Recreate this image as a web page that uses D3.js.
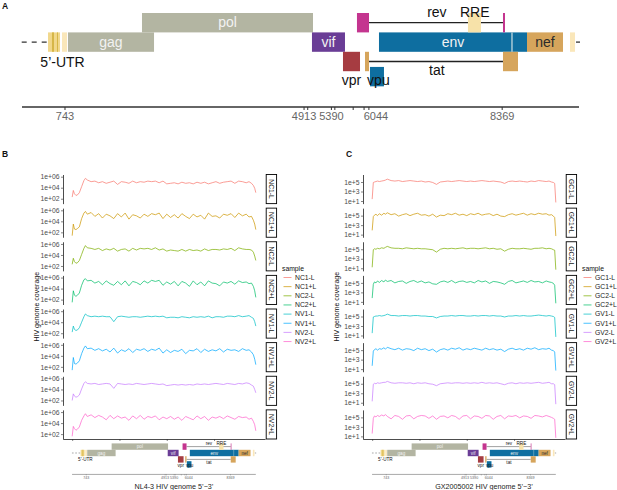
<!DOCTYPE html>
<html>
<head>
<meta charset="utf-8">
<script src="https://cdn.jsdelivr.net/npm/d3@7"></script>
<style>
  body { margin: 0; background: #fff; }
  svg { display: block; font-family: "Liberation Sans", Arial, sans-serif; }
</style>
</head>
<body>
<svg></svg>
<script>
const width = 617
const height = 490

// ---- genome map (bp) ----
const genomeLength = 9709
const genes = [
  { name: 'gag', start: 795, end: 2296, lane: 1 },
  { name: 'pol', start: 2086, end: 5069, lane: 0 },
  { name: 'vif', start: 5051, end: 5627, lane: 1 },
  { name: 'vpr', start: 5592, end: 5889, lane: 2 },
  { name: 'rev', start: 5836, end: 6046, lane: 0 },
  { name: 'tat', start: 5976, end: 6046, lane: 2 },
  { name: 'vpu', start: 6063, end: 6307, lane: 2.78 },
  { name: 'env', start: 6220, end: 8802, lane: 1 },
  { name: 'RRE', start: 7772, end: 7999, lane: 0 },
  { name: 'tat', start: 8383, end: 8645, lane: 2 },
  { name: 'rev', start: 8383, end: 8418, lane: 0 },
  { name: 'nef', start: 8802, end: 9430, lane: 1 }
]
const ltrBlocks = [
  { start: 447, end: 656, tone: 'ltr' },
  { start: 516, end: 551, tone: 'stripe' },
  { start: 603, end: 621, tone: 'stripe' },
  { start: 691, end: 778, tone: 'pale' },
  { start: 9552, end: 9639, tone: 'pale' }
]
const spliceLinks = [
  { name: 'rev', start: 6046, end: 8383, lane: 0 },
  { name: 'tat', start: 6046, end: 8383, lane: 2 }
]
const envCleavage = 8540
const geneLabels = [
  { text: 'gag', pos: 1545, lane: 1.75, inside: true },
  { text: 'pol', pos: 3578, lane: 0.73, inside: true },
  { text: 'vif', pos: 5339, lane: 1.75, inside: true },
  { text: 'env', pos: 7511, lane: 1.75, inside: true },
  { text: 'nef', pos: 9116, lane: 1.75, inside: true, dark: true },
  { text: 'rev', pos: 7230, lane: 0.2 },
  { text: 'RRE', pos: 7890, lane: 0.2 },
  { text: 'tat', pos: 7230, lane: 3.2 },
  { text: 'vpr', pos: 5740, lane: 3.7 },
  { text: 'vpu', pos: 6210, lane: 3.7 },
  { text: '5\u2019-UTR', pos: 700, lane: 2.78 }
]
const genomeTicks = [743, 4913, 4977, 5390, 5450, 5770, 5960, 6044, 8369]
const genomeTickLabels = [743, 4913, 5390, 6044, 8369]

// ---- coverage (log10 depth) ----
const positions = [0, 60, 120, 200, 280, 380, 500, 620, 700,
  800, 1000, 1200, 1400, 1600, 1800, 2000, 2200, 2400, 2600, 2800, 3000, 3200, 3400,
  3600, 3800, 4000, 4200, 4400, 4600, 4800, 5000, 5200, 5400, 5600, 5800, 6000, 6200,
  6400, 6600, 6800, 7000, 7200, 7400, 7600, 7800, 8000, 8200, 8400, 8600, 8800, 9000,
  9200, 9350, 9480, 9580, 9650, 9709]

const samplesNL = ['NC1-L', 'NC1+L', 'NC2-L', 'NC2+L', 'NV1-L', 'NV1+L', 'NV2-L', 'NV2+L']
const samplesGX = ['GC1-L', 'GC1+L', 'GC2-L', 'GC2+L', 'GV1-L', 'GV1+L', 'GV2-L', 'GV2+L']

const nc1Minus = [2.3, 3.5, 2.9, 2.6, 2.7, 3.1, 4.2, 5.3, 5.7, 5.4,
  5.1, 5.2, 4.9, 5.1, 4.8, 5.0, 5.2, 4.6, 5.1, 5.0,
  4.8, 5.2, 4.9, 5.1, 5.0, 5.2, 5.1, 5.2, 4.9, 5.2,
  4.7, 4.8, 4.9, 4.7, 5.0, 4.8, 4.9, 4.7, 5.0, 4.8,
  5.0, 4.7, 4.9, 5.1, 4.8, 5.0, 5.1, 5.2, 4.8, 5.2,
  5.1, 4.9, 5.1, 4.8, 4.4, 3.9, 3.1]
const nc1Plus = [1.4, 3.5, 2.6, 2.5, 2.7, 3.0, 4.5, 5.5, 5.8, 5.3,
  5.6, 4.9, 5.4, 4.6, 5.3, 5.0, 4.5, 5.4, 4.8, 5.5,
  4.4, 5.2, 5.0, 4.6, 5.3, 4.9, 5.4, 5.2, 5.5, 4.5,
  5.3, 4.7, 5.2, 4.6, 5.4, 4.9, 4.5, 5.3, 4.8, 5.1,
  4.4, 5.5, 4.9, 5.0, 4.6, 5.3, 5.1, 5.4, 4.7, 5.5,
  5.0, 5.3, 4.8, 4.9, 4.2, 3.5, 2.5]
const nc2Minus = [2.3, 3.4, 2.8, 2.5, 2.6, 3.0, 4.1, 5.2, 5.7, 5.3,
  5.2, 5.0, 5.2, 4.8, 5.1, 4.9, 5.2, 4.7, 5.0, 5.1,
  4.7, 5.2, 4.9, 5.2, 5.1, 5.2, 5.0, 5.3, 4.9, 5.1,
  4.7, 4.9, 4.8, 4.7, 5.0, 4.7, 5.0, 4.8, 4.9, 4.7,
  5.1, 4.8, 5.0, 5.0, 4.9, 5.1, 5.0, 5.2, 4.8, 5.3,
  5.1, 5.0, 5.0, 4.9, 4.5, 3.8, 3.0]
const nc2Plus = [1.5, 3.6, 2.8, 2.6, 2.8, 3.2, 4.6, 5.6, 5.8, 5.4,
  5.5, 5.0, 5.3, 4.7, 5.4, 4.9, 4.6, 5.3, 4.7, 5.4,
  4.5, 5.3, 5.1, 4.7, 5.4, 5.0, 5.5, 5.3, 5.5, 4.6,
  5.2, 4.8, 5.3, 4.5, 5.3, 5.0, 4.4, 5.4, 4.7, 5.2,
  4.5, 5.4, 5.0, 4.9, 4.5, 5.2, 5.0, 5.3, 4.8, 5.4,
  5.1, 5.2, 4.9, 5.0, 4.4, 3.6, 2.4]
const nv1Minus = [2.2, 3.3, 2.7, 2.5, 2.6, 3.0, 4.0, 5.0, 5.5, 5.2,
  5.0, 5.1, 5.0, 5.1, 5.0, 5.0, 4.1, 5.0, 5.1, 5.0,
  4.9, 5.0, 5.0, 4.9, 5.0, 5.1, 5.0, 5.1, 5.0, 5.1,
  4.8, 4.9, 4.9, 4.8, 5.0, 4.9, 4.8, 5.0, 4.9, 5.0,
  4.9, 5.1, 4.8, 5.0, 5.0, 4.9, 5.1, 5.1, 5.0, 5.2,
  5.0, 5.1, 5.2, 4.9, 4.7, 4.1, 3.3]
const nv1Plus = [1.4, 3.7, 2.6, 2.5, 2.7, 3.1, 4.4, 5.4, 5.8, 5.3,
  5.4, 5.0, 5.3, 4.9, 5.2, 4.7, 5.4, 4.5, 5.1, 4.8,
  5.3, 4.6, 5.2, 5.0, 5.3, 4.8, 5.2, 5.0, 5.4, 4.5,
  5.1, 4.6, 5.0, 4.8, 5.2, 4.4, 5.0, 4.9, 5.3, 4.6,
  5.2, 4.8, 5.1, 4.9, 5.3, 4.7, 5.2, 5.0, 5.1, 4.8,
  5.3, 5.0, 5.1, 4.7, 4.2, 3.4, 2.4]
const nv2Minus = [2.0, 3.2, 2.8, 2.6, 2.7, 3.0, 4.1, 5.1, 5.4, 5.1,
  5.0, 5.1, 4.9, 5.0, 5.1, 5.0, 4.2, 5.1, 5.0, 4.9,
  5.0, 4.9, 5.1, 5.0, 4.9, 5.0, 5.1, 5.0, 4.9, 5.0,
  4.7, 4.8, 4.9, 4.8, 4.9, 4.8, 4.9, 4.8, 5.0, 4.9,
  5.0, 4.9, 5.0, 5.1, 5.0, 4.9, 5.1, 5.0, 4.9, 5.1,
  5.0, 5.2, 5.1, 4.8, 4.6, 4.0, 3.4]
const nv2Plus = [1.6, 3.4, 3.0, 2.7, 2.9, 3.3, 4.5, 5.3, 5.7, 5.2,
  5.5, 5.0, 5.4, 5.1, 4.6, 5.4, 4.8, 5.3, 4.9, 5.1,
  4.5, 5.3, 4.8, 5.4, 4.7, 5.2, 5.0, 5.3, 4.6, 5.1,
  4.8, 5.2, 4.7, 5.1, 4.5, 5.2, 4.9, 4.6, 5.3, 4.8,
  5.2, 4.5, 5.1, 4.9, 5.2, 4.8, 5.3, 5.0, 4.7, 5.2,
  5.0, 5.1, 4.7, 4.9, 4.3, 3.7, 2.6]

const gc1Minus = [1.4, 4.9, 5.0, 5.1, 5.2, 5.1, 5.2, 5.3, 5.4, 5.6,
  5.3, 5.2, 5.3, 5.1, 5.2, 5.3, 5.2, 5.1, 5.2, 5.0,
  5.1, 4.9, 4.5, 5.0, 5.1, 5.2, 5.1, 5.2, 5.3, 5.2,
  5.1, 5.2, 5.1, 5.2, 5.3, 5.2, 5.1, 5.2, 5.1, 5.0,
  4.7, 5.1, 5.2, 5.1, 5.2, 5.1, 5.0, 5.2, 5.1, 5.3,
  5.2, 5.1, 5.2, 5.0, 4.9, 4.7, 0.7]
const gc1Plus = [1.9, 4.8, 5.1, 5.3, 5.0, 5.4, 5.1, 5.5, 5.3, 5.6,
  5.2, 5.4, 4.9, 5.2, 5.4, 5.0, 5.3, 5.5, 5.1, 5.2,
  4.9, 5.3, 4.7, 5.1, 5.0, 5.4, 5.2, 5.5, 5.1, 5.3,
  5.0, 5.4, 5.2, 5.5, 5.1, 5.3, 5.4, 5.0, 5.3, 4.9,
  4.8, 5.2, 5.4, 5.1, 5.3, 5.5, 5.1, 5.4, 5.2, 5.5,
  5.3, 5.4, 5.1, 5.2, 4.9, 4.6, 0.7]
const gc2Minus = [1.2, 4.9, 5.1, 5.0, 5.2, 5.1, 5.3, 5.2, 5.4, 5.6,
  5.3, 5.2, 5.2, 5.1, 5.3, 5.2, 5.1, 5.2, 5.1, 5.1,
  5.0, 4.9, 4.4, 5.0, 5.2, 5.1, 5.2, 5.1, 5.2, 5.3,
  5.1, 5.2, 5.2, 5.1, 5.2, 5.3, 5.1, 5.2, 5.0, 5.1,
  4.6, 5.0, 5.2, 5.1, 5.1, 5.2, 5.1, 5.0, 5.2, 5.2,
  5.3, 5.1, 5.2, 5.1, 4.9, 4.8, 0.7]
const gc2Plus = [1.8, 4.7, 5.2, 5.0, 5.4, 5.1, 5.5, 5.2, 5.6, 5.3,
  5.5, 5.0, 5.3, 5.4, 4.9, 5.3, 5.5, 5.1, 5.4, 5.0,
  5.2, 4.8, 4.7, 5.2, 5.4, 5.1, 5.5, 5.0, 5.3, 5.4,
  5.1, 5.3, 5.0, 5.5, 5.2, 5.4, 4.9, 5.3, 5.2, 5.0,
  4.7, 5.3, 5.5, 5.0, 5.2, 5.4, 5.1, 5.5, 5.2, 5.3,
  5.0, 5.4, 5.2, 5.1, 4.9, 4.5, 0.7]
const gv1Minus = [1.5, 4.9, 5.0, 5.1, 5.1, 5.2, 5.1, 5.2, 5.3, 5.5,
  5.2, 5.2, 5.1, 5.2, 5.2, 5.1, 5.2, 5.2, 5.1, 5.1,
  5.0, 5.0, 4.7, 5.0, 5.1, 5.1, 5.2, 5.1, 5.2, 5.2,
  5.1, 5.1, 5.2, 5.1, 5.2, 5.2, 5.1, 5.2, 5.1, 5.1,
  4.9, 5.1, 5.1, 5.2, 5.1, 5.2, 5.1, 5.1, 5.2, 5.3,
  5.2, 5.1, 5.2, 5.1, 5.0, 4.8, 0.7]
const gv1Plus = [1.7, 4.8, 5.1, 5.3, 5.0, 5.3, 5.2, 5.5, 5.2, 5.6,
  5.3, 5.1, 5.4, 5.0, 5.3, 5.2, 4.9, 5.4, 5.1, 5.3,
  4.9, 5.2, 4.6, 5.1, 5.3, 5.0, 5.4, 5.2, 5.5, 5.0,
  5.3, 5.1, 5.4, 5.2, 5.0, 5.4, 5.1, 5.3, 5.0, 5.2,
  4.7, 5.2, 5.4, 5.1, 5.3, 5.0, 5.4, 5.2, 5.5, 5.1,
  5.3, 5.2, 5.4, 5.0, 4.9, 4.6, 0.7]
const gv2Minus = [1.3, 4.9, 5.1, 5.0, 5.2, 5.1, 5.2, 5.3, 5.3, 5.5,
  5.2, 5.1, 5.2, 5.2, 5.1, 5.2, 5.0, 5.2, 5.1, 5.2,
  5.0, 4.9, 4.6, 5.0, 5.1, 5.2, 5.1, 5.2, 5.2, 5.1,
  5.2, 5.1, 5.2, 5.1, 5.3, 5.1, 5.2, 5.1, 5.2, 5.0,
  4.8, 5.1, 5.2, 5.0, 5.2, 5.1, 5.2, 5.1, 5.2, 5.3,
  5.1, 5.2, 5.3, 5.0, 5.0, 4.8, 0.7]
const gv2Plus = [1.6, 4.8, 5.3, 5.1, 5.4, 5.2, 5.5, 5.3, 5.6, 5.2,
  4.7, 5.4, 5.2, 4.6, 5.3, 5.4, 4.7, 5.2, 5.4, 5.3,
  4.8, 5.3, 4.6, 5.2, 5.3, 4.9, 5.4, 5.2, 4.6, 5.3,
  5.4, 4.7, 5.3, 5.2, 4.8, 5.4, 5.3, 4.6, 5.2, 5.4,
  4.7, 5.3, 5.2, 5.4, 4.9, 5.3, 5.2, 4.8, 5.4, 5.3,
  5.1, 5.4, 5.2, 5.0, 4.8, 4.6, 0.7]

const seriesNL = [nc1Minus, nc1Plus, nc2Minus, nc2Plus, nv1Minus, nv1Plus, nv2Minus, nv2Plus]
const seriesGX = [gc1Minus, gc1Plus, gc2Minus, gc2Plus, gv1Minus, gv1Plus, gv2Minus, gv2Plus]

const ticksNL = [1e2, 1e4, 1e6]
const ticksGX = [1e1, 1e3, 1e5]
const bottomTicks = [0, 2500, 5000, 7500]

// ggplot default hue palette for 8 groups
const hue = ['#F8766D', '#CD9600', '#7CAE00', '#00BE67', '#00BFC4', '#00A9FF', '#C77CFF', '#FF61CC']

const geneColor = {
  gag: '#B3B5A2', pol: '#B3B5A2', vif: '#6A3D96', vpr: '#A63C41', rev: '#C4358F',
  tat: '#D6A55C', vpu: '#0E6EA0', env: '#0E6EA0', nef: '#D6A55C', RRE: '#F7E2A9'
}
const ltrColor = { ltr: '#F1D88C', stripe: '#D6B647', pale: '#FAE7BA' }

const svg = d3.select('svg')
  .attr('width', width)
  .attr('height', height)

// ---------- genome diagram ----------
const gx = d3.scaleLinear().domain([0, genomeLength]).range([22.4, 579])
const laneH = 19.4
const laneTop = l => 13 + l * laneH

function drawGenome(g) {
  const midY = laneTop(1) + laneH / 2

  g.append('line')
    .attr('x1', 21.7).attr('x2', gx(ltrBlocks[0].start))
    .attr('y1', midY).attr('y2', midY)
    .attr('stroke', '#333').attr('stroke-width', 1.3)
    .attr('stroke-dasharray', '5,5')
  g.append('line')
    .attr('x1', 576).attr('x2', 580)
    .attr('y1', midY).attr('y2', midY)
    .attr('stroke', '#333').attr('stroke-width', 1.3)

  g.selectAll(null)
    .data(ltrBlocks)
    .join('rect')
      .attr('x', d => gx(d.start))
      .attr('width', d => gx(d.end) - gx(d.start))
      .attr('y', laneTop(1))
      .attr('height', laneH)
      .attr('fill', d => ltrColor[d.tone])

  g.selectAll(null)
    .data(spliceLinks)
    .join('line')
      .attr('x1', d => gx(d.start)).attr('x2', d => gx(d.end))
      .attr('y1', d => laneTop(d.lane) + laneH / 2)
      .attr('y2', d => laneTop(d.lane) + laneH / 2)
      .attr('stroke', '#222').attr('stroke-width', 1.3)

  g.selectAll(null)
    .data(genes)
    .join('rect')
      .attr('x', d => gx(d.start))
      .attr('width', d => gx(d.end) - gx(d.start))
      .attr('y', d => laneTop(d.lane))
      .attr('height', laneH)
      .attr('fill', d => geneColor[d.name])

  g.append('line')
    .attr('x1', gx(envCleavage)).attr('x2', gx(envCleavage))
    .attr('y1', laneTop(1)).attr('y2', laneTop(1) + laneH)
    .attr('stroke', '#CFE0E4').attr('stroke-width', 1.2)

  g.selectAll(null)
    .data(geneLabels)
    .join('text')
      .attr('x', d => gx(d.pos))
      .attr('y', d => laneTop(d.lane))
      .attr('text-anchor', 'middle')
      .attr('font-size', 14)
      .attr('fill', d => d.inside ? (d.dark ? '#2b2b2b' : '#F2F2F2') : '#111')
      .text(d => d.text)

  // coordinate axis
  const axisY = 107
  g.append('line')
    .attr('x1', 22).attr('x2', 579)
    .attr('y1', axisY).attr('y2', axisY)
    .attr('stroke', '#333').attr('stroke-width', 1.3)
  g.selectAll(null)
    .data(genomeTicks)
    .join('line')
      .attr('x1', d => gx(d)).attr('x2', d => gx(d))
      .attr('y1', axisY).attr('y2', axisY + 3)
      .attr('stroke', '#333').attr('stroke-width', 1)
  g.selectAll(null)
    .data(genomeTickLabels)
    .join('text')
      .attr('x', d => gx(d) + (d === 6044 ? 7 : 0))
      .attr('y', axisY + 13)
      .attr('text-anchor', 'middle')
      .attr('font-size', 11)
      .attr('fill', '#666')
      .text(d => d)
}

drawGenome(svg.append('g'))

// ---------- coverage facets ----------
const facetTop = 174.5
const facetBottom = 439
const facetGap = 4.5
const nFacets = 8
const facetH = (facetBottom - facetTop - facetGap * (nFacets - 1)) / nFacets

function drawCoverage(cfg) {
  const g = svg.append('g')
  const span = genomeLength
  const x = d3.scaleLinear()
    .domain([-0.05 * span, span * 1.05])
    .range([cfg.left, cfg.right])

  cfg.samples.forEach((name, i) => {
    const top = facetTop + i * (facetH + facetGap)
    const y = d3.scaleLog()
      .domain([10 ** cfg.yDomain[0], 10 ** cfg.yDomain[1]])
      .range([top + facetH, top])

    const line = d3.line()
      .x((d, j) => x(positions[j]))
      .y(d => y(10 ** d))

    g.append('path')
      .datum(cfg.series[i])
      .attr('d', line)
      .attr('fill', 'none')
      .attr('stroke', hue[i])
      .attr('stroke-opacity', 0.8)
      .attr('stroke-width', 0.9)
      .attr('stroke-linejoin', 'round')

    const ax = g.append('g')
      .attr('transform', `translate(${cfg.left},0)`)
      .call(d3.axisLeft(y).tickValues(cfg.ticks).tickFormat(cfg.fmt).tickSize(2).tickSizeOuter(0).tickPadding(1.5))
    ax.select('.domain').attr('stroke', '#000').attr('stroke-width', 0.7)
    ax.selectAll('.tick line').attr('stroke', '#333').attr('stroke-width', 0.6)
    ax.selectAll('.tick text')
      .attr('font-size', 6.8)
      .attr('font-family', '"Liberation Sans", Arial, sans-serif')
      .attr('fill', '#4D4D4D')

    // facet strip
    const sx = cfg.right + 1.2
    g.append('rect')
      .attr('x', sx).attr('y', top)
      .attr('width', 10.4).attr('height', facetH)
      .attr('fill', '#fff').attr('stroke', '#000').attr('stroke-width', 0.9)
    g.append('text')
      .attr('transform', `translate(${sx + 5.2},${top + facetH / 2}) rotate(90)`)
      .attr('text-anchor', 'middle')
      .attr('dy', '0.35em')
      .attr('font-size', 6.8)
      .attr('fill', '#1a1a1a')
      .text(name)
  })

  const bx = g.append('g')
    .attr('transform', `translate(0,${facetBottom})`)
    .call(d3.axisBottom(x).tickValues(bottomTicks).tickFormat('').tickSize(2).tickSizeOuter(0))
  bx.select('.domain').attr('stroke', '#000').attr('stroke-width', 0.7)
  bx.selectAll('.tick line').attr('stroke', '#333').attr('stroke-width', 0.6)

  g.append('text')
    .attr('transform', `translate(${cfg.yTitleX},${(facetTop + facetBottom) / 2}) rotate(-90)`)
    .attr('text-anchor', 'middle')
    .attr('font-size', 7)
    .attr('fill', '#111')
    .text('HIV genome coverage')

  g.append('text')
    .attr('x', cfg.xTitleX).attr('y', 489)
    .attr('text-anchor', 'middle')
    .attr('font-size', 7.2)
    .attr('fill', '#1a1a1a')
    .text(cfg.xTitle)

  // legend
  const lg = g.append('g').attr('transform', `translate(${cfg.legendX},0)`)
  lg.append('text')
    .attr('x', 0).attr('y', 270.5)
    .attr('font-size', 6.8).attr('fill', '#111')
    .text('sample')
  cfg.samples.forEach((name, i) => {
    const yy = 277.5 + i * 9.15
    lg.append('line')
      .attr('x1', 1.5).attr('x2', 9.5)
      .attr('y1', yy).attr('y2', yy)
      .attr('stroke', hue[i]).attr('stroke-opacity', 0.8).attr('stroke-width', 0.9)
    lg.append('text')
      .attr('x', 13).attr('y', yy).attr('dy', '0.35em')
      .attr('font-size', 6.8).attr('fill', '#1a1a1a')
      .text(name)
  })

  // mini genome map under the facets
  const k = (x(span) - x(0)) / (gx(span) - gx(0))
  const tx = x(0) - k * gx(0)
  const ty = 443.4 - k * laneTop(0)
  drawGenome(g.append('g').attr('transform', `translate(${tx},${ty}) scale(${k})`))
}

drawCoverage({
  left: 63, right: 265,
  samples: samplesNL, series: seriesNL,
  yDomain: [1.11, 6.4], ticks: ticksNL,
  fmt: d => '1e+0' + Math.round(Math.log10(d)),
  yTitleX: 39, xTitleX: 174, xTitle: 'NL4-3 HIV genome 5\u2019\u22123\u2019',
  legendX: 282
})

drawCoverage({
  left: 363, right: 565,
  samples: samplesGX, series: seriesGX,
  yDomain: [0.45, 6.58], ticks: ticksGX,
  fmt: d => '1e+' + Math.round(Math.log10(d)),
  yTitleX: 339, xTitleX: 484, xTitle: 'GX2005002 HIV genome 5\u2019\u22123\u2019',
  legendX: 582
})

// panel letters
const letters = [['A', 2, 9], ['B', 2, 157], ['C', 346, 157]]
svg.selectAll(null)
  .data(letters)
  .join('text')
    .attr('x', d => d[1]).attr('y', d => d[2])
    .attr('font-size', 8.5).attr('font-weight', 'bold')
    .attr('fill', '#111')
    .text(d => d[0])
</script>
</body>
</html>
